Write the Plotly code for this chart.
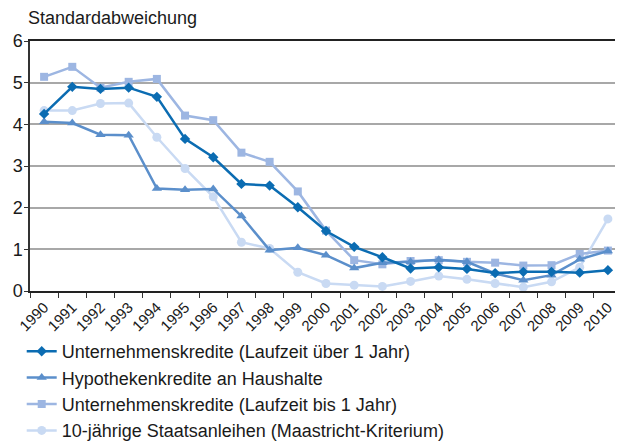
import plotly.graph_objects as go

years = [str(y) for y in range(1990, 2011)]

unt_ueber1 = [4.25, 4.90, 4.85, 4.88, 4.66, 3.65, 3.21, 2.57, 2.53, 2.01, 1.44,
              1.06, 0.81, 0.54, 0.57, 0.53, 0.43, 0.46, 0.46, 0.44, 0.50]
hypothek = [4.06, 4.03, 3.75, 3.74, 2.46, 2.43, 2.45, 1.80, 0.98, 1.04, 0.86,
            0.55, 0.68, 0.70, 0.75, 0.70, 0.42, 0.26, 0.38, 0.76, 0.96]
unt_bis1 = [5.14, 5.38, 4.88, 5.02, 5.09, 4.21, 4.10, 3.32, 3.10, 2.39, 1.45,
            0.74, 0.64, 0.72, 0.74, 0.70, 0.68, 0.61, 0.62, 0.89, 0.97]
staatsanl = [4.33, 4.33, 4.50, 4.51, 3.69, 2.94, 2.26, 1.17, 1.02, 0.45, 0.18,
             0.14, 0.11, 0.23, 0.36, 0.28, 0.18, 0.09, 0.22, 0.57, 1.73]

names = [
    "Unternehmenskredite (Laufzeit über 1 Jahr)",
    "Hypothekenkredite an Haushalte",
    "Unternehmenskredite (Laufzeit bis 1 Jahr)",
    "10-jährige Staatsanleihen (Maastricht-Kriterium)",
]
series = [unt_ueber1, hypothek, unt_bis1, staatsanl]
colors = ["#0b6cb2", "#5b8fcb", "#9db6e2", "#c9daf3"]
symbols = ["diamond", "triangle-up", "square", "circle"]
msizes = [8, 9, 8, 9]

FONT = "Liberation Sans, Arial, Helvetica, sans-serif"

fig = go.Figure()
order = [3, 2, 1, 0]  # draw lightest first so the dark line is on top
for i in order:
    fig.add_trace(go.Scatter(
        x=years, y=series[i], name=names[i], mode="lines+markers",
        line=dict(color=colors[i], width=2.5),
        marker=dict(symbol=symbols[i], size=msizes[i], color=colors[i]),
        legendrank=i + 1,
    ))

# the page has an 8px body margin, so the figure is 8px smaller than the window
fig.update_layout(
    width=615, height=434,
    margin=dict(l=22, r=1, t=33, b=151, autoexpand=False),
    paper_bgcolor="white", plot_bgcolor="white",
    font=dict(family=FONT, color="#1a1a1a"),
    showlegend=True,
    legend=dict(
        orientation="v", x=-0.014, xanchor="left", y=-0.168, yanchor="top",
        font=dict(size=18, family=FONT, color="#1a1a1a"),
        bgcolor="rgba(0,0,0,0)", itemwidth=30, traceorder="normal",
    ),
    annotations=[dict(
        text="Standardabweichung", xref="paper", yref="paper",
        x=0, y=1, xshift=-4, yshift=23, xanchor="left", yanchor="middle",
        showarrow=False, font=dict(size=18, family=FONT, color="#1a1a1a"),
    )],
)
fig.update_xaxes(
    type="category", tickson="boundaries", ticks="outside", ticklen=5,
    tickcolor="#333", tickwidth=1.2, tickangle=-45,
    tickfont=dict(size=15, family=FONT, color="#1a1a1a"),
    showline=True, linecolor="#222", linewidth=1.5, mirror=True,
    showgrid=False, range=[-0.5, 20.5],
)
fig.update_yaxes(
    range=[0, 6], tickvals=[0, 1, 2, 3, 4, 5, 6], ticks="outside", ticklen=4,
    tickcolor="#333", tickfont=dict(size=18, family=FONT, color="#1a1a1a"),
    ticklabelstandoff=-2,
    showline=True, linecolor="#333", linewidth=1.5, mirror=True,
    showgrid=True, gridcolor="#a8a8a8", gridwidth=1.5, zeroline=False,
)

fig.write_html("out.html")
